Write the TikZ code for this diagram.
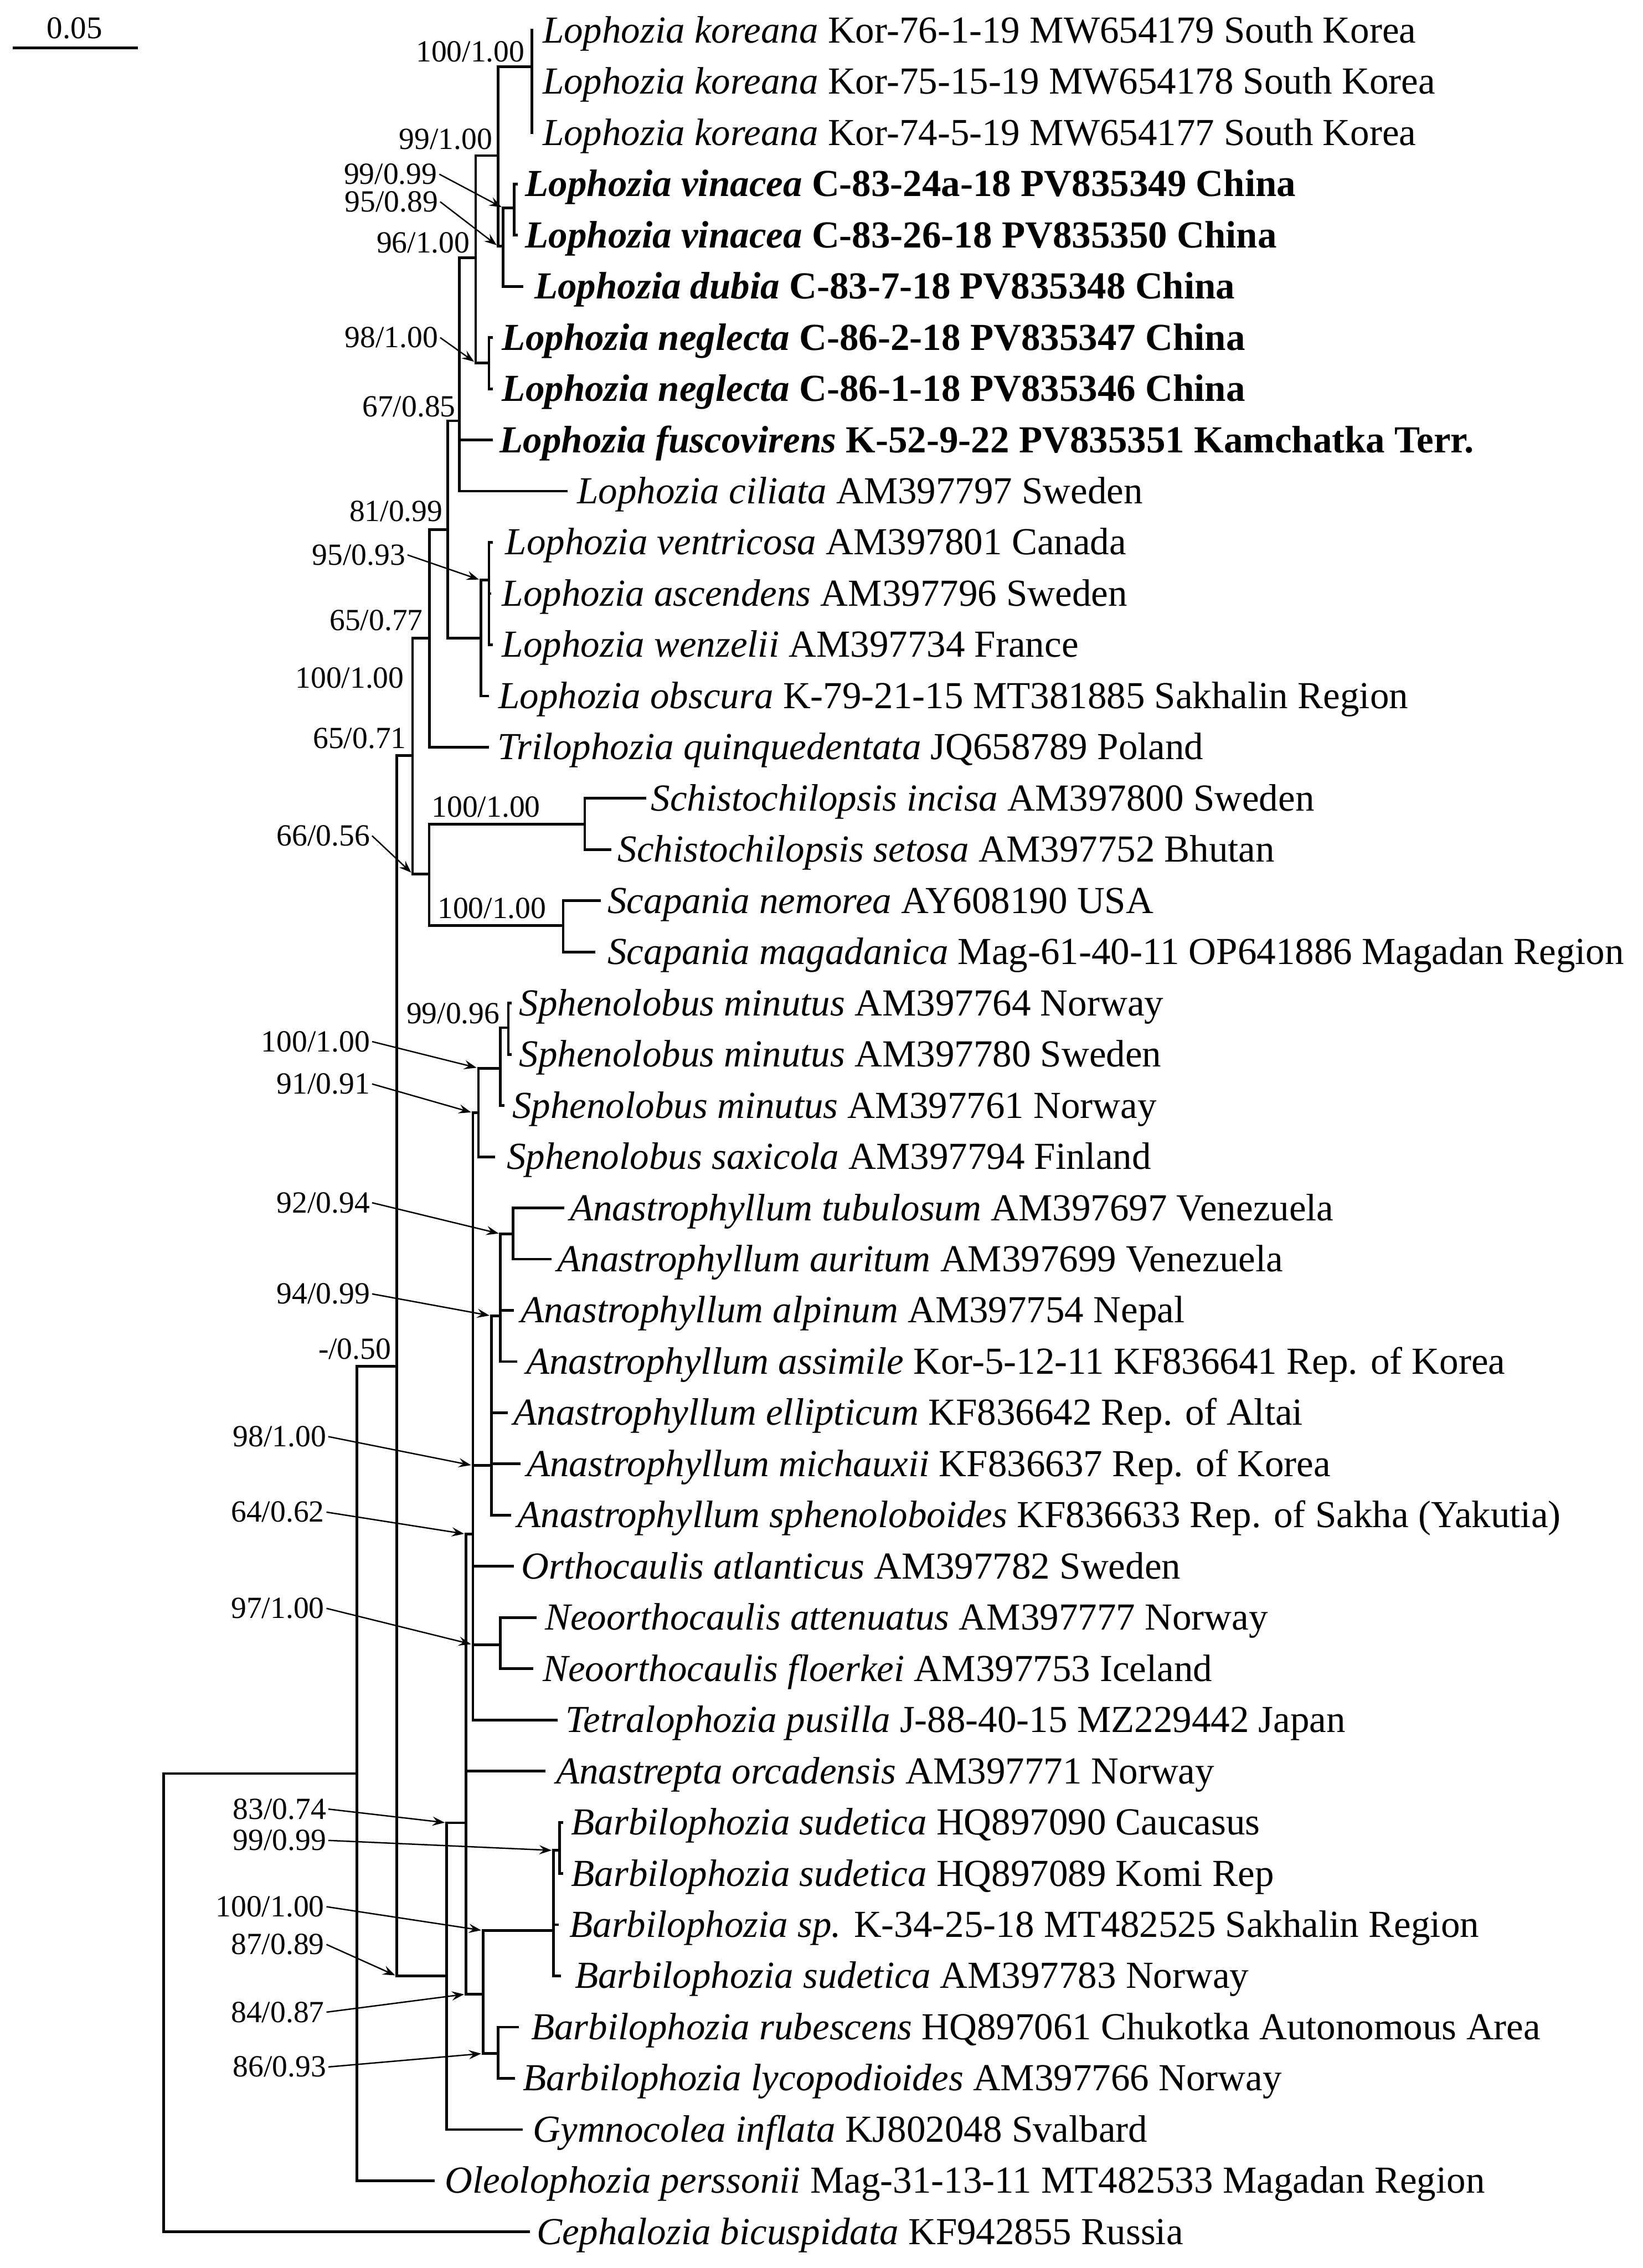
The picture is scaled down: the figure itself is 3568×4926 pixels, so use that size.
\documentclass[tikz,border=0pt]{standalone}
\usepackage{fontspec}
\setmainfont{Liberation Serif}
\usetikzlibrary{arrows.meta}
\newcommand\mkleaf[4]{%
  \coordinate (L#1) at (#2,{66+111.2*(#1-1)});
  \node[tx] (T#1) at (#3,{93+111.2*(#1-1)}) {#4};}
\begin{document}
\begin{tikzpicture}[x=0.01cm,y=-0.01cm,
  br/.style={line width=0.058cm,line cap=rect},
  tx/.style={anchor=base west,inner sep=0pt,font=\fontsize{23.6}{28}\selectfont},
  bs/.style={anchor=base east,inner xsep=0.04cm,inner ysep=0pt,font=\fontsize{19}{22}\selectfont},
  arr/.style={line width=0.03cm,-{Stealth[length=0.27cm,width=0.2cm,inset=0.1cm]},shorten >=0.04cm}]
\useasboundingbox (0,0) rectangle (3568,4926);
\fill[white] (0,0) rectangle (3568,4926);

% scale bar
\coordinate (sb1) at (28,104);
\coordinate (sb2) at (300,104);
\draw[line width=0.055cm] (sb1) -- (sb2);
\node[anchor=base,inner sep=0pt,font=\fontsize{19.5}{22}\selectfont] (sbt) at (162,83) {0.05};

% leaves
\mkleaf{1}{1155}{1178}{\textit{Lophozia koreana} Kor-76-1-19 MW654179 South Korea}
\mkleaf{2}{1155}{1178}{\textit{Lophozia koreana} Kor-75-15-19 MW654178 South Korea}
\mkleaf{3}{1155}{1178}{\textit{Lophozia koreana} Kor-74-5-19 MW654177 South Korea}
\mkleaf{4}{1122}{1140}{\textbf{\textit{Lophozia vinacea} C-83-24a-18 PV835349 China}}
\mkleaf{5}{1122}{1140}{\textbf{\textit{Lophozia vinacea} C-83-26-18 PV835350 China}}
\mkleaf{6}{1133}{1160}{\textbf{\textit{Lophozia dubia} C-83-7-18 PV835348 China}}
\mkleaf{7}{1067}{1090}{\textbf{\textit{Lophozia neglecta} C-86-2-18 PV835347 China}}
\mkleaf{8}{1067}{1090}{\textbf{\textit{Lophozia neglecta} C-86-1-18 PV835346 China}}
\mkleaf{9}{1067}{1085}{\textbf{\textit{Lophozia fuscovirens} K-52-9-22 PV835351 Kamchatka Terr.}}
\mkleaf{10}{1230}{1253}{\textit{Lophozia ciliata} AM397797 Sweden}
\mkleaf{11}{1067}{1097}{\textit{Lophozia ventricosa} AM397801 Canada}
\mkleaf{12}{1064}{1090}{\textit{Lophozia ascendens} AM397796 Sweden}
\mkleaf{13}{1067}{1090}{\textit{Lophozia wenzelii} AM397734 France}
\mkleaf{14}{1059}{1082}{\textit{Lophozia obscura} K-79-21-15 MT381885 Sakhalin Region}
\mkleaf{15}{1059}{1080}{\textit{Trilophozia quinquedentata} JQ658789 Poland}
\mkleaf{16}{1400}{1413}{\textit{Schistochilopsis incisa} AM397800 Sweden}
\mkleaf{17}{1325}{1341}{\textit{Schistochilopsis setosa} AM397752 Bhutan}
\mkleaf{18}{1302}{1319}{\textit{Scapania nemorea} AY608190 USA}
\mkleaf{19}{1290}{1319}{\textit{Scapania magadanica} Mag-61-40-11 OP641886 Magadan Region}
\mkleaf{20}{1108}{1127}{\textit{Sphenolobus minutus} AM397764 Norway}
\mkleaf{21}{1108}{1127}{\textit{Sphenolobus minutus} AM397780 Sweden}
\mkleaf{22}{1093}{1112}{\textit{Sphenolobus minutus} AM397761 Norway}
\mkleaf{23}{1072}{1100}{\textit{Sphenolobus saxicola} AM397794 Finland}
\mkleaf{24}{1222}{1237}{\textit{Anastrophyllum tubulosum} AM397697 Venezuela}
\mkleaf{25}{1195}{1210}{\textit{Anastrophyllum auritum} AM397699 Venezuela}
\mkleaf{26}{1113}{1130}{\textit{Anastrophyllum alpinum} AM397754 Nepal}
\mkleaf{27}{1120}{1142}{\textit{Anastrophyllum assimile} Kor-5-12-11 KF836641 Rep. of Korea}
\mkleaf{28}{1100}{1115}{\textit{Anastrophyllum ellipticum} KF836642 Rep. of Altai}
\mkleaf{29}{1127}{1143}{\textit{Anastrophyllum michauxii} KF836637 Rep. of Korea}
\mkleaf{30}{1107}{1123}{\textit{Anastrophyllum sphenoloboides} KF836633 Rep. of Sakha (Yakutia)}
\mkleaf{31}{1113}{1132}{\textit{Orthocaulis atlanticus} AM397782 Sweden}
\mkleaf{32}{1162}{1183}{\textit{Neoorthocaulis attenuatus} AM397777 Norway}
\mkleaf{33}{1155}{1178}{\textit{Neoorthocaulis floerkei} AM397753 Iceland}
\mkleaf{34}{1208}{1228}{\textit{Tetralophozia pusilla} J-88-40-15 MZ229442 Japan}
\mkleaf{35}{1182}{1207}{\textit{Anastrepta orcadensis} AM397771 Norway}
\mkleaf{36}{1220}{1240}{\textit{Barbilophozia sudetica} HQ897090 Caucasus}
\mkleaf{37}{1220}{1240}{\textit{Barbilophozia sudetica} HQ897089 Komi Rep}
\mkleaf{38}{1210}{1236}{\textit{Barbilophozia sp.} K-34-25-18 MT482525 Sakhalin Region}
\mkleaf{39}{1215}{1248}{\textit{Barbilophozia sudetica} AM397783 Norway}
\mkleaf{40}{1124}{1153}{\textit{Barbilophozia rubescens} HQ897061 Chukotka Autonomous Area}
\mkleaf{41}{1115}{1135}{\textit{Barbilophozia lycopodioides} AM397766 Norway}
\mkleaf{42}{1132}{1157}{\textit{Gymnocolea inflata} KJ802048 Svalbard}
\mkleaf{43}{941}{966}{\textit{Oleolophozia perssonii} Mag-31-13-11 MT482533 Magadan Region}
\mkleaf{44}{1148}{1165}{\textit{Cephalozia bicuspidata} KF942855 Russia}

% internal nodes
\coordinate (Nkor) at (1155,145);
\coordinate (Nvin) at (1117,452);
\coordinate (Ndub) at (1093,535);
\coordinate (N99) at (1082,338);
\coordinate (Nneg) at (1062,788);
\coordinate (N96) at (1033,560);
\coordinate (N67) at (998,914);
\coordinate (Nven) at (1062,1260);
\coordinate (Nobs) at (1044,1386);
\coordinate (N81) at (972,1150);
\coordinate (N65a) at (933,1386);
\coordinate (Nsch) at (1270,1790);
\coordinate (Nsca) at (1223,2010);
\coordinate (N66) at (932,1898);
\coordinate (N65b) at (896,1641);
\coordinate (Ntop) at (862,2967);
\coordinate (Nole) at (775,3852);
\coordinate (Root) at (355,3852);
\coordinate (Nsph1) at (1104,2232);
\coordinate (Nsph2) at (1087,2320);
\coordinate (Nsph3) at (1039,2417);
\coordinate (Ntub) at (1114,2680);
\coordinate (Nalp) at (1087,2858);
\coordinate (Nana) at (1067,3183);
\coordinate (N1027) at (1027,3332);
\coordinate (Nneo) at (1087,3572);
\coordinate (N1012) at (1012,3959);
\coordinate (N84) at (1049,4331);
\coordinate (Nbsud) at (1202,4193);
\coordinate (Nbs2) at (1215,4019);
\coordinate (Nrub) at (1082,4460);
\coordinate (N970) at (970,4292);

% branches
\foreach \pa/\ch in {Nkor/L1,Nkor/L2,Nkor/L3,Nvin/L4,Nvin/L5,Ndub/Nvin,Ndub/L6,
  N99/Nkor,N99/Ndub,Nneg/L7,Nneg/L8,N96/N99,N96/Nneg,N67/N96,N67/L9,N67/L10,
  Nven/L11,Nven/L12,Nven/L13,Nobs/Nven,Nobs/L14,N81/N67,N81/Nobs,N65a/N81,N65a/L15,
  Nsch/L16,Nsch/L17,Nsca/L18,Nsca/L19,N66/Nsch,N66/Nsca,N65b/N65a,N65b/N66,
  Ntop/N65b,Ntop/N970,Nole/Ntop,Nole/L43,Root/Nole,Root/L44,
  Nsph1/L20,Nsph1/L21,Nsph2/Nsph1,Nsph2/L22,Nsph3/Nsph2,Nsph3/L23,
  Ntub/L24,Ntub/L25,Nalp/Ntub,Nalp/L26,Nalp/L27,
  Nana/Nalp,Nana/L28,Nana/L29,Nana/L30,
  N1027/Nsph3,N1027/Nana,N1027/L31,N1027/Nneo,N1027/L34,Nneo/L32,Nneo/L33,
  N1012/N1027,N1012/L35,N1012/N84,Nbs2/L36,Nbs2/L37,
  Nbsud/Nbs2,Nbsud/L38,Nbsud/L39,Nrub/L40,Nrub/L41,N84/Nbsud,N84/Nrub,
  N970/N1012,N970/L42}
  \draw[br] (\pa) |- (\ch);

% support values without arrows
\node[bs] (s1) at (1144,134) {100/1.00};
\node[bs] (s2) at (1074,324) {99/1.00};
\node[bs] (s3) at (1025,549) {96/1.00};
\node[bs] (s4) at (994,905) {67/0.85};
\node[bs] (s5) at (966,1132) {81/0.99};
\node[bs] (s6) at (923,1369) {65/0.77};
\node[bs] (s7) at (882,1494) {100/1.00};
\node[bs] (s8) at (887,1625) {65/0.71};
\node[bs] (s9) at (1178,1775) {100/1.00};
\node[bs] (s10) at (1191,1994) {100/1.00};
\node[bs] (s11) at (1090,2223) {99/0.96};
\node[bs] (s12) at (854,2952) {-/0.50};

% support values with arrows
\node[bs] (a1) at (954,400) {99/0.99};
\node[bs] (a2) at (956,460) {95/0.89};
\node[bs] (a3) at (956,755) {98/1.00};
\node[bs] (a4) at (885,1227) {95/0.93};
\node[bs] (a5) at (808,1837) {66/0.56};
\node[bs] (a6) at (808,2284) {100/1.00};
\node[bs] (a7) at (808,2376) {91/0.91};
\node[bs] (a8) at (808,2634) {92/0.94};
\node[bs] (a9) at (808,2832) {94/0.99};
\node[bs] (a10) at (713,3142) {98/1.00};
\node[bs] (a11) at (709,3306) {64/0.62};
\node[bs] (a12) at (709,3515) {97/1.00};
\node[bs] (a13) at (713,3951) {83/0.74};
\node[bs] (a14) at (713,4019) {99/0.99};
\node[bs] (a15) at (709,4163) {100/1.00};
\node[bs] (a16) at (709,4245) {87/0.89};
\node[bs] (a17) at (709,4392) {84/0.87};
\node[bs] (a18) at (713,4511) {86/0.93};

\draw[arr] (a1.east) -- (Ndub |- Nvin);
\draw[arr] (a2.east) -- (N99 |- Ndub);
\draw[arr] (a3.east) -- (N96 |- Nneg);
\draw[arr] (a4.east) -- (Nobs |- Nven);
\draw[arr] (a5.east) -- (N65b |- N66);
\draw[arr] (a6.east) -- (Nsph3 |- Nsph2);
\draw[arr] (a7.east) -- (N1027 |- Nsph3);
\draw[arr] (a8.east) -- (Nalp |- Ntub);
\draw[arr] (a9.east) -- (Nana |- Nalp);
\draw[arr] (a10.east) -- (N1027 |- Nana);
\draw[arr] (a11.east) -- (N1012 |- N1027);
\draw[arr] (a12.east) -- (N1027 |- Nneo);
\draw[arr] (a13.east) -- (N970 |- N1012);
\draw[arr] (a14.east) -- (Nbsud |- Nbs2);
\draw[arr] (a15.east) -- (N84 |- Nbsud);
\draw[arr] (a16.east) -- (Ntop |- N970);
\draw[arr] (a17.east) -- (N1012 |- N84);
\draw[arr] (a18.east) -- (N84 |- Nrub);
\end{tikzpicture}
\end{document}
